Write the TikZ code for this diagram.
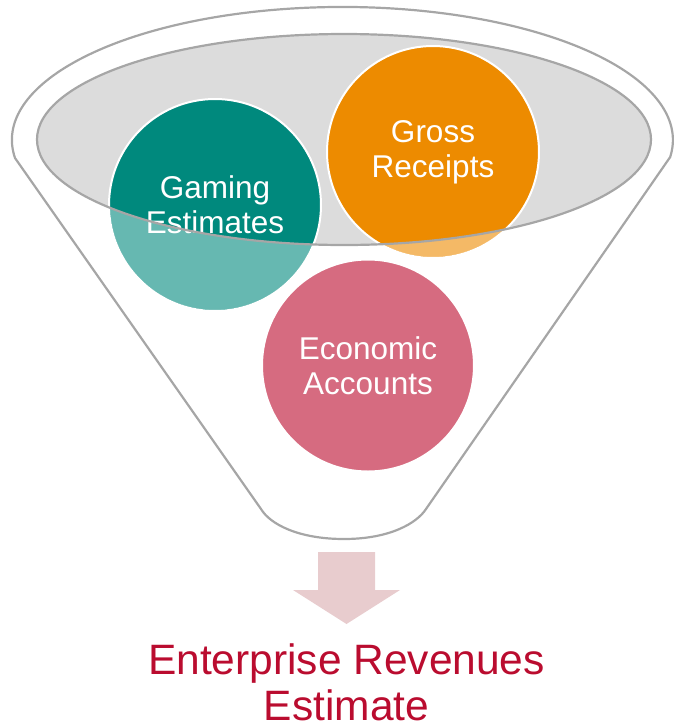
\documentclass[tikz,border=0pt]{standalone}
\usepackage{fontspec}
\setmainfont{Liberation Sans}
\begin{document}
\begin{tikzpicture}[x=1pt, y=-1pt]
  % Colors
  \definecolor{blank}{HTML}{ffffff}
  \definecolor{outline}{HTML}{a6a6a6}
  \definecolor{mouth}{HTML}{dcdcdc}
  \definecolor{sea}{HTML}{00897d}
  \definecolor{amber}{HTML}{ed8b00}
  \definecolor{rose}{HTML}{d66b80}
  \definecolor{blush}{HTML}{e8ccce}
  \definecolor{crimson}{HTML}{ba0c2f}

  % Configurations
  \tikzset{
    edge/.style={line width=2.2pt, draw=outline},
    ball/.style={circle, draw=blank, line width=2pt, fill=#1,
      minimum size=212pt, inner sep=0pt, text=blank, align=center,
      font=\fontsize{31.5}{35}\selectfont},
  }

  % Drawing objects
  \newcommand{\mouthrim}{(344,139.5) ellipse (307 and 105.5)}

  % Bounding box
  \useasboundingbox (0,0) rectangle (674,721);

  % Funnel mouth
  \fill [mouth] \mouthrim;
  % Balls in the mouth
  \node [ball=sea] (gaming) at (215,205) {Gaming\\Estimates};
  \node [ball=amber] (receipts) at (433,152) {Gross\\Receipts};
  % Lighter parts below the rim
  \begin{scope}
    \clip (gaming.center) circle (105) (receipts.center) circle (105);
    \fill [blank, opacity=.4, even odd rule] (0,0) rectangle (674,721) \mouthrim;
  \end{scope}
  % Rim
  \draw [edge] \mouthrim;
  % Ball in the neck
  \node [ball=rose] (economic) at (368,365.5) {Economic\\Accounts};
  % Funnel
  \draw [edge, line join=round] (15,158) arc (172.2:367.4:330.5 and 133)
    -- (426,509)
    .. controls (417,523) and (390,539) .. (344,539)
    .. controls (298,539) and (270,524) .. (261,509)
    -- cycle;
  % Arrow
  \fill [blush] (318,552) -- (375,552) -- (375,590) -- (400,590)
    -- (346.5,624) -- (293,590) -- (318,590) -- cycle;
  % Result
  \node [text=crimson, align=center, inner sep=0pt, anchor=north,
    font=\fontsize{42.5}{46}\selectfont] (estimate) at (346.5,643.5)
    {Enterprise Revenues\\Estimate};
\end{tikzpicture}
\end{document}
